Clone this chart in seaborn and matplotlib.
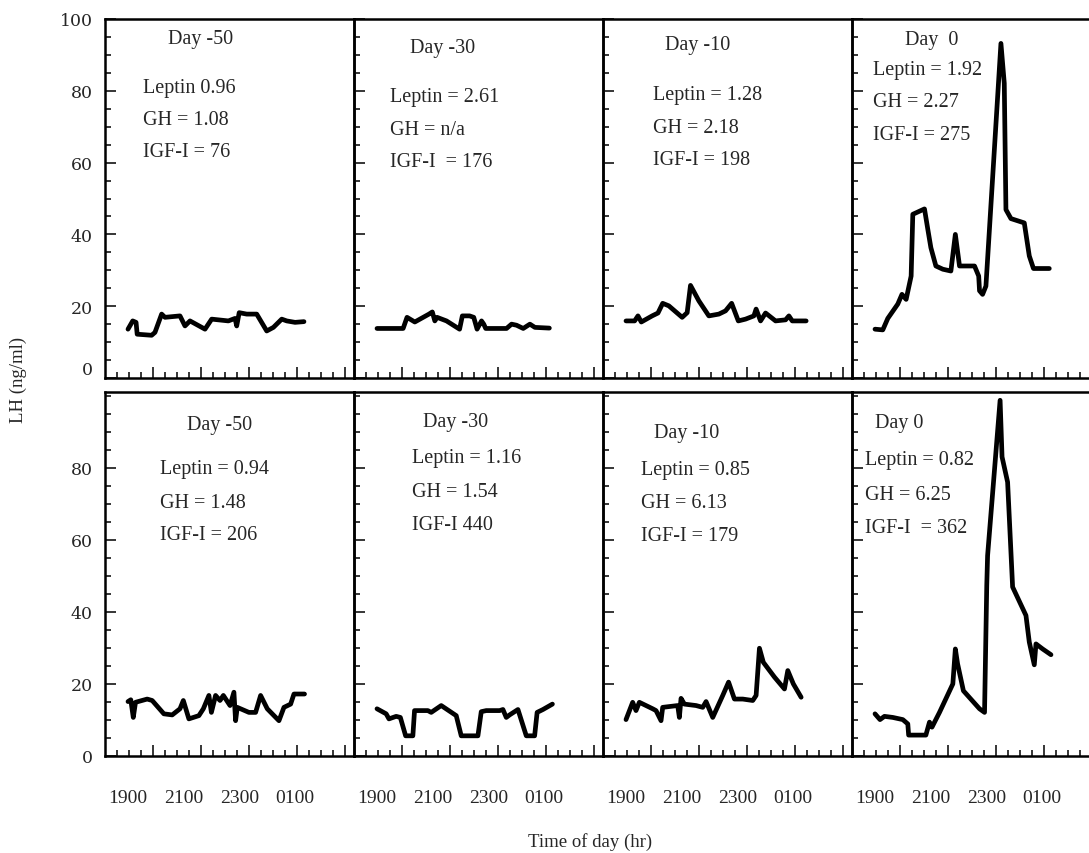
import matplotlib
matplotlib.use("Agg")
import matplotlib.pyplot as plt
import numpy as np
import pandas as pd
import seaborn as sns

# time is in hours after midnight of the first day (25 = 0100)
# ---- top row ----
t_top_d50 = [19.0, 19.17, 19.29, 19.33, 19.85, 19.97, 20.21, 20.33, 20.87, 21.05, 21.23, 21.77, 22.01,
             22.61, 22.85, 22.91, 23.00, 23.27, 23.63, 23.99, 24.23, 24.53, 24.71, 25.01, 25.33]
lh_top_d50 = [13.6, 15.9, 15.5, 12.2, 11.9, 12.7, 17.8, 16.9, 17.3, 14.5, 15.9, 13.6, 16.4,
              15.9, 16.6, 14.5, 18.2, 17.8, 17.8, 13.1, 14.1, 16.4, 15.9, 15.5, 15.7]

t_top_d30 = [19.0, 19.94, 20.08, 20.36, 20.87, 20.99, 21.08, 21.16, 21.50, 21.97, 22.07, 22.33,
             22.48, 22.60, 22.76, 22.84, 22.91, 23.66, 23.84, 24.02, 24.26, 24.50, 24.68, 25.20]
lh_top_d30 = [13.8, 13.8, 16.9, 15.6, 17.8, 18.4, 15.9, 16.9, 15.9, 13.6, 17.3, 17.3,
              16.9, 13.6, 15.9, 15.0, 13.8, 13.8, 15.0, 14.7, 13.8, 15.0, 14.1, 13.9]

t_top_d10 = [19.0, 19.31, 19.43, 19.55, 19.94, 20.15, 20.32, 20.54, 21.02, 21.20, 21.32, 21.62, 21.98,
             22.34, 22.58, 22.80, 23.04, 23.30, 23.60, 23.68, 23.84, 24.02, 24.38, 24.74, 24.86, 24.98, 25.48]
lh_top_d10 = [15.9, 15.9, 17.3, 15.6, 17.3, 18.1, 20.8, 20.1, 16.9, 18.2, 25.8, 21.5, 17.3,
              17.8, 18.7, 20.8, 15.9, 16.4, 17.3, 19.2, 15.9, 18.1, 15.9, 16.2, 17.3, 15.9, 15.9]

t_top_d0 = [19.00, 19.28, 19.46, 19.82, 19.97, 20.12, 20.30, 20.36, 20.78, 20.90, 21.01, 21.19, 21.44,
            21.73, 21.89, 22.04, 22.58, 22.73, 22.76, 22.87, 22.99, 23.53, 23.65, 23.71, 23.89, 24.37,
            24.55, 24.70, 25.27]
lh_top_d0 = [13.6, 13.4, 16.6, 20.6, 23.3, 21.9, 28.4, 45.6, 47.1, 41.4, 36.3, 31.2, 30.3,
             29.8, 40.0, 31.2, 31.2, 28.4, 24.3, 23.3, 25.6, 93.2, 82.1, 46.9, 44.4, 43.2,
             34.0, 30.5, 30.5]

# ---- bottom row ----
t_bot_d50 = [19.00, 19.10, 19.19, 19.27, 19.69, 19.87, 20.29, 20.59, 20.87, 20.99, 21.19, 21.55, 21.71,
             21.91, 22.00, 22.15, 22.31, 22.43, 22.67, 22.81, 22.87, 22.93, 23.35, 23.59, 23.77, 24.01,
             24.43, 24.61, 24.85, 24.97, 25.35]
lh_bot_d50 = [15.1, 15.6, 10.7, 14.9, 15.8, 15.4, 11.7, 11.4, 13.1, 15.4, 10.3, 11.2, 13.1,
              16.8, 12.1, 16.8, 15.4, 16.8, 14.0, 17.7, 9.8, 13.5, 12.1, 12.1, 16.8, 13.1,
              9.8, 13.5, 14.4, 17.2, 17.2]

t_bot_d30 = [19.00, 19.33, 19.43, 19.69, 19.84, 20.03, 20.29, 20.35, 20.83, 20.95, 21.31, 21.85, 22.03,
             22.63, 22.75, 22.93, 23.41, 23.53, 23.65, 23.77, 24.07, 24.37, 24.67, 24.76, 24.97, 25.31]
lh_bot_d30 = [13.1, 11.7, 10.3, 11.0, 10.7, 5.6, 5.6, 12.6, 12.6, 12.1, 14.0, 11.2, 5.6,
              5.6, 12.3, 12.6, 12.6, 12.9, 10.7, 11.4, 12.9, 5.6, 5.6, 12.1, 12.9, 14.4]

t_bot_d10 = [19.00, 19.24, 19.36, 19.48, 19.96, 20.08, 20.26, 20.32, 20.86, 20.92, 20.98, 21.10, 21.52,
             21.76, 21.88, 22.12, 22.48, 22.69, 22.90, 23.20, 23.56, 23.68, 23.80, 23.94, 24.34, 24.70,
             24.82, 25.02, 25.30]
lh_bot_d10 = [10.1, 14.9, 12.6, 14.9, 13.1, 12.6, 9.8, 13.5, 14.0, 10.7, 16.0, 14.4, 14.0,
              13.5, 15.1, 10.7, 16.8, 20.5, 15.8, 15.8, 15.4, 16.8, 29.9, 26.0, 21.9, 18.6,
              23.7, 20.0, 16.3]

t_bot_d0 = [19.00, 19.18, 19.34, 19.64, 20.00, 20.18, 20.21, 20.83, 20.96, 21.05, 21.32, 21.80, 21.89,
            21.97, 22.18, 22.76, 22.94, 23.02, 23.05, 23.50, 23.57, 23.77, 23.95, 24.43, 24.55, 24.73,
            24.79, 25.03, 25.33]
lh_bot_d0 = [11.7, 10.1, 11.0, 10.7, 10.1, 8.9, 5.8, 5.8, 9.4, 8.0, 12.1, 20.0, 29.7,
             25.6, 18.1, 13.1, 12.1, 47.3, 55.6, 98.7, 83.0, 76.0, 46.9, 39.0, 31.6, 25.3,
             31.1, 29.7, 28.1]

# annotation text for each panel
notes_top = [["Day -50", "Leptin 0.96", "GH = 1.08", "IGF-I = 76"],
             ["Day -30", "Leptin = 2.61", "GH = n/a", "IGF-I  = 176"],
             ["Day -10", "Leptin = 1.28", "GH = 2.18", "IGF-I = 198"],
             ["Day  0", "Leptin = 1.92", "GH = 2.27", "IGF-I = 275"]]
notes_bot = [["Day -50", "Leptin = 0.94", "GH = 1.48", "IGF-I = 206"],
             ["Day -30", "Leptin = 1.16", "GH = 1.54", "IGF-I 440"],
             ["Day -10", "Leptin = 0.85", "GH = 6.13", "IGF-I = 179"],
             ["Day 0", "Leptin = 0.82", "GH = 6.25", "IGF-I  = 362"]]
time_labels = ["1900", "2100", "2300", "0100"]
time_label_pos = [19, 21, 23, 25]

series_top = [(t_top_d50, lh_top_d50), (t_top_d30, lh_top_d30),
              (t_top_d10, lh_top_d10), (t_top_d0, lh_top_d0)]
series_bot = [(t_bot_d50, lh_bot_d50), (t_bot_d30, lh_bot_d30),
              (t_bot_d10, lh_bot_d10), (t_bot_d0, lh_bot_d0)]

# layout (pixels)
W, H = 1089, 854
col_w = 249
col_left = [105 + i * col_w for i in range(4)]
rows = [(20, 379), (393, 757)]
px_hr = 27.8
xmin = 19 - 23 / px_hr
xmax = xmin + col_w / px_hr

# text positions (axes fraction): day label, then leptin/GH/IGF lines
pos_top = [[(0.253, 0.946), (0.153, 0.808), (0.153, 0.719), (0.153, 0.630)],
           [(0.225, 0.920), (0.145, 0.784), (0.145, 0.692), (0.145, 0.602)],
           [(0.249, 0.928), (0.201, 0.789), (0.201, 0.697), (0.201, 0.608)],
           [(0.213, 0.942), (0.084, 0.859), (0.084, 0.770), (0.084, 0.678)]]
pos_bot = [[(0.329, 0.910), (0.221, 0.789), (0.221, 0.696), (0.221, 0.608)],
           [(0.277, 0.918), (0.233, 0.819), (0.233, 0.726), (0.233, 0.635)],
           [(0.205, 0.888), (0.153, 0.786), (0.153, 0.696), (0.153, 0.605)],
           [(0.092, 0.916), (0.052, 0.814), (0.052, 0.718), (0.052, 0.627)]]

sns.set_style("ticks")
plt.rcParams['font.family'] = ['Liberation Serif', 'DejaVu Serif']

fig = plt.figure(figsize=(W / 100, H / 100), dpi=100)

for r, (ytop, ybot) in enumerate(rows):
    series = series_top if r == 0 else series_bot
    notes = notes_top if r == 0 else notes_bot
    pos = pos_top if r == 0 else pos_bot
    for c in range(4):
        ax = fig.add_axes([col_left[c] / W, 1 - ybot / H, col_w / W, (ybot - ytop) / H])
        ax.patch.set_visible(False)
        df = pd.DataFrame({'time': series[c][0], 'LH': series[c][1]})
        sns.lineplot(data=df, x='time', y='LH', ax=ax, color='black', lw=3.4,
                     estimator=None, sort=False)
        ax.set_xlim(xmin, xmax)
        if r == 0:
            ax.set_ylim(0, 100)
            ax.set_yticks(np.arange(0, 101, 20))
        else:
            ax.set_ylim(0, 101)
            ax.set_yticks(np.arange(0, 81, 20))
        ax.set_yticks(np.arange(0, 101, 5), minor=True)
        ax.set_xticks(xmin + np.arange(1, 6) * 48 / px_hr)
        ax.set_xticks(xmin + np.arange(1, 21) * 12 / px_hr, minor=True)
        ax.set_xticklabels([])
        ax.set_xlabel('')
        ax.set_ylabel('')
        for s in ax.spines.values():
            s.set_linewidth(1.8)
            s.set_color('black')
        ax.tick_params(which='both', direction='in', width=1.3, top=False, right=False)
        ax.tick_params(which='major', length=8)
        ax.tick_params(which='minor', length=4.5)
        if c == 0:
            ax.tick_params(axis='y', labelsize=12.5, pad=9)
            for lab in ax.get_yticklabels():
                lab.set_family('DejaVu Serif')
            if r == 0:
                ax.get_yticklabels()[0].set_va('bottom')
        else:
            ax.set_yticklabels([])
        for txt, (tx, ty) in zip(notes[c], pos[c]):
            ax.text(tx, ty, txt, transform=ax.transAxes, fontsize=14.5,
                    ha='left', va='center')
        if r == 1:
            for lab, xp in zip(time_labels, time_label_pos):
                ax.text(xp, -0.115, lab, transform=ax.get_xaxis_transform(),
                        fontsize=14, ha='center', va='center')

fig.text(18 / W, 1 - 380 / H, 'LH (ng/ml)', rotation=90, fontsize=13.5,
         ha='center', va='center')
fig.text(590 / W, 1 - 842 / H, 'Time of day (hr)', fontsize=13.5,
         ha='center', va='center')

fig.savefig('out.png', dpi=100)
